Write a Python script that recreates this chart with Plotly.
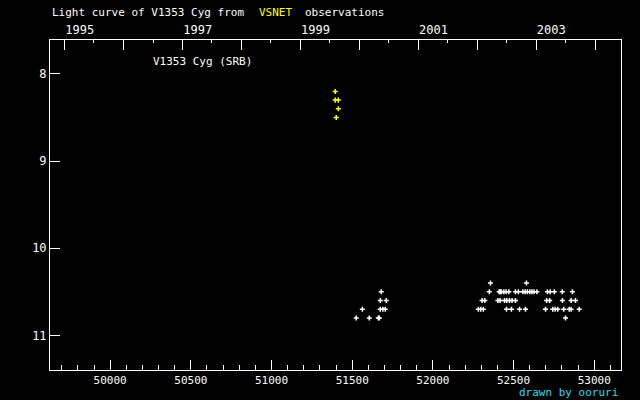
import datetime as dt
import plotly.graph_objects as go

# ---- data (JD - 2400000, visual magnitude) ----
yellow_jd = [51395, 51395, 51414, 51414, 51401]
yellow_mag = [8.2, 8.3, 8.3, 8.4, 8.5]

white_jd = [
    51525, 51563, 51606, 51662, 51668, 51674, 51690, 51705, 51674, 51711, 51680,
    52357, 52580,
    52350, 52411, 52418, 52425, 52440, 52454, 52471, 52512, 52530, 52558, 52572,
    52586, 52601, 52614, 52627, 52645, 52710, 52727, 52753, 52802, 52865,
    52305, 52322, 52403, 52417, 52444, 52458, 52475, 52491, 52512, 52705, 52724,
    52803, 52857, 52884,
    52282, 52297, 52313, 52456, 52487, 52537, 52574, 52698, 52743, 52758, 52774,
    52811, 52845, 52857, 52907,
    52822,
]
white_mag = (
    [10.8, 10.7, 10.8, 10.8, 10.8, 10.7, 10.7, 10.7, 10.6, 10.6, 10.5]
    + [10.4] * 2
    + [10.5] * 21
    + [10.6] * 14
    + [10.7] * 15
    + [10.8] * 1
)

jd_ticks = [50000, 50500, 51000, 51500, 52000, 52500, 53000]
mag_ticks = [8, 9, 10, 11]
years = list(range(1995, 2005))
year_labels = ["1995", "", "1997", "", "1999", "", "2001", "", "2003", ""]

x_range = [49627, 53166]
y_range = [11.398, 7.61]


def jd_of(d):
    return (d - dt.date(1858, 11, 17)).days + 0.5


year_vals = [jd_of(dt.date(y, 1, 1)) for y in years]
half_vals = [jd_of(dt.date(y, 7, 1)) for y in years]

FONT = "DejaVu Sans Mono"
TICKFONT = dict(family=FONT, size=12, color="white")
fig = go.Figure()
fig.add_trace(go.Scatter(
    x=white_jd, y=white_mag, mode="markers",
    marker=dict(symbol="cross-thin", size=3.6, line=dict(color="white", width=1.5)),
    showlegend=False, hoverinfo="skip"))
fig.add_trace(go.Scatter(
    x=yellow_jd, y=yellow_mag, mode="markers",
    marker=dict(symbol="cross-thin", size=3.6, line=dict(color="#ffff00", width=1.5)),
    showlegend=False, hoverinfo="skip"))
# invisible trace to activate top axis
fig.add_trace(go.Scatter(x=[x_range[0]], y=[y_range[0]], xaxis="x2", mode="markers",
                         marker=dict(opacity=0), showlegend=False, hoverinfo="skip"))

fig.update_layout(
    width=640, height=400,
    margin=dict(l=50, r=19, t=40, b=30),
    paper_bgcolor="black", plot_bgcolor="black",
    font=dict(family=FONT, size=11, color="white"),
    xaxis=dict(range=x_range, tickmode="array", tickvals=jd_ticks,
               ticktext=[str(v) for v in jd_ticks],
               ticks="inside", ticklen=10, tickcolor="white", tickwidth=1,
               minor=dict(dtick=100, tick0=0, ticks="inside", ticklen=5,
                          tickcolor="white", tickwidth=1),
               showline=True, linecolor="white", linewidth=1,
               showgrid=False, zeroline=False,
               tickfont=dict(family=FONT, size=11, color="white")),
    xaxis2=dict(range=x_range, overlaying="x", side="top", tickmode="array",
                tickvals=year_vals, ticktext=year_labels,
                ticks="inside", ticklen=10, tickcolor="white", tickwidth=1,
                minor=dict(tickvals=half_vals, ticks="inside", ticklen=3,
                           tickcolor="white", tickwidth=1),
                showline=True, linecolor="white", linewidth=1,
                showgrid=False, zeroline=False, ticklabelshift=15,
                tickfont=TICKFONT),
    yaxis=dict(range=y_range, tickmode="array", tickvals=mag_ticks,
               ticks="inside", ticklen=10, tickcolor="white", tickwidth=1,
               showline=True, linecolor="white", linewidth=1, mirror=True,
               showgrid=False, zeroline=False, tickfont=TICKFONT),
)

fig.add_annotation(text="Light curve of V1353 Cyg from", xref="paper", yref="paper",
                   x=0, y=1, xanchor="left", yanchor="middle", yshift=28,
                   showarrow=False, font=dict(color="white"))
fig.add_annotation(text="VSNET", xref="paper", yref="paper",
                   x=(257 - 50) / 570.4, y=1, xanchor="left", yanchor="middle", yshift=28,
                   showarrow=False, font=dict(color="#ffff00"))
fig.add_annotation(text="observations", xref="paper", yref="paper",
                   x=(303 - 50) / 570.4, y=1, xanchor="left", yanchor="middle", yshift=28,
                   showarrow=False, font=dict(color="white"))
fig.add_annotation(text="V1353 Cyg (SRB)", xref="paper", yref="paper",
                   x=(151 - 50) / 570.4, y=1, xanchor="left", yanchor="middle", yshift=-21,
                   showarrow=False, font=dict(color="white"))
fig.add_annotation(text="drawn by ooruri", xref="paper", yref="paper",
                   x=(619 - 50) / 570.4, y=0, xanchor="right", yanchor="middle", yshift=-22,
                   showarrow=False, font=dict(color="#22ddf0"))

fig.write_html("out.html", config={"displayModeBar": False},
               post_script="document.body.style.margin='0';")
